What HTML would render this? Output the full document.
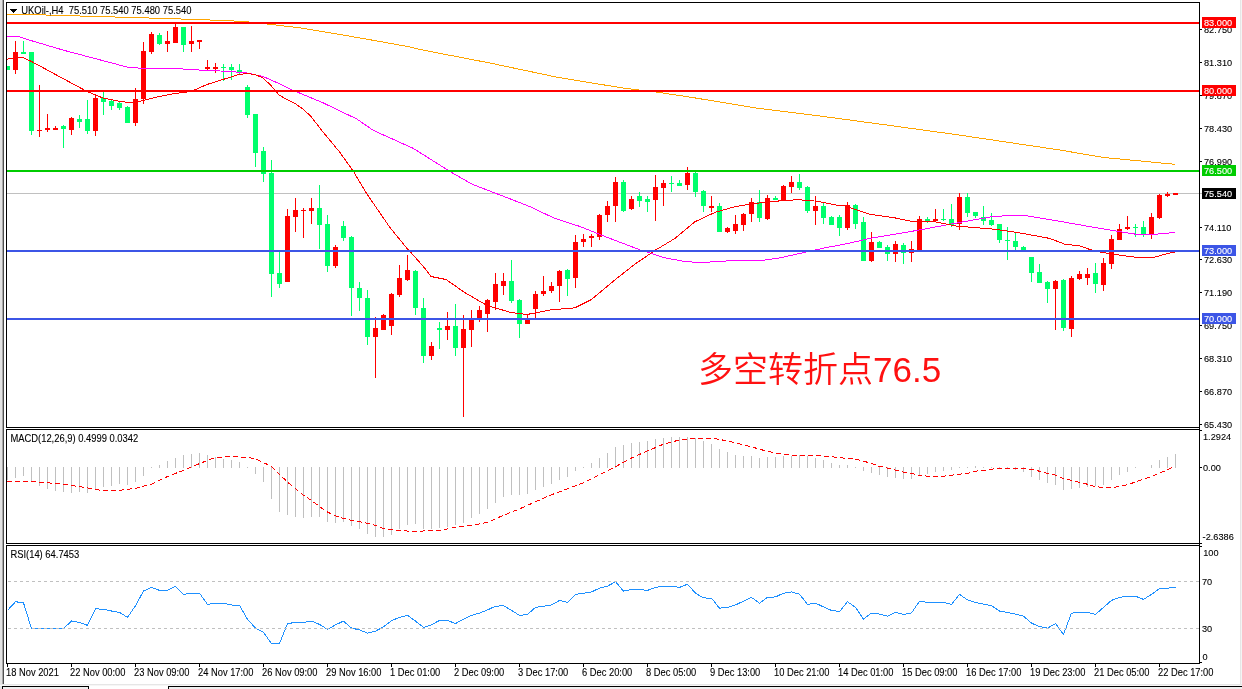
<!DOCTYPE html>
<html lang="zh"><head><meta charset="utf-8"><title>UKOil H4</title>
<style>html,body{margin:0;padding:0;background:#fff;}body{width:1242px;height:689px;overflow:hidden;position:relative;font-family:"Liberation Sans", "Noto Sans CJK SC", sans-serif;}</style>
</head><body>
<svg width="1242" height="689" viewBox="0 0 1242 689" style="display:block;position:absolute;left:0;top:0">
<rect x="0" y="0" width="1242" height="689" fill="#ffffff"/>
<g shape-rendering="crispEdges">
<rect x="0" y="0" width="2" height="685" fill="#e3e3e3"/>
<rect x="2" y="0" width="1" height="685" fill="#a9a9a9"/>
<rect x="3" y="0" width="1" height="685" fill="#4f4f4f"/>
<rect x="1240" y="0" width="1" height="685" fill="#e6e6e6"/>
<rect x="1241" y="0" width="1" height="685" fill="#f4f4f4"/>
<rect x="0" y="684" width="1242" height="1" fill="#e6e6e6"/>
<rect x="0" y="685" width="1242" height="1" fill="#f6f6f6"/>
<rect x="0" y="686" width="1242" height="1" fill="#000"/>
<rect x="0" y="687" width="1242" height="2" fill="#efefef"/>
<rect x="0" y="686" width="2" height="3" fill="#e8e8e8"/>
<rect x="89" y="686" width="79" height="3" fill="#fff"/>
<rect x="88" y="686" width="1" height="3" fill="#000"/>
<rect x="168" y="686" width="1" height="3" fill="#000"/>
<rect x="2" y="686" width="1" height="3" fill="#000"/>
<rect x="7" y="193" width="1195" height="1" fill="#c0c0c0"/>
</g>
<g shape-rendering="crispEdges">
<rect x="7" y="66" width="1" height="4" fill="#00ff6c"/>
<rect x="7" y="66" width="3" height="4" fill="#00ff6c"/>
<rect x="15" y="41" width="1" height="33" fill="#ff0000"/>
<rect x="13" y="52" width="5" height="18" fill="#ff0000"/>
<rect x="23" y="41" width="1" height="13" fill="#00ff6c"/>
<rect x="21" y="52" width="5" height="2" fill="#00ff6c"/>
<rect x="31" y="52" width="1" height="83" fill="#00ff6c"/>
<rect x="29" y="52" width="5" height="79" fill="#00ff6c"/>
<rect x="39" y="85" width="1" height="52" fill="#ff0000"/>
<rect x="37" y="130" width="5" height="1" fill="#ff0000"/>
<rect x="47" y="114" width="1" height="18" fill="#ff0000"/>
<rect x="45" y="128" width="5" height="2" fill="#ff0000"/>
<rect x="55" y="126" width="1" height="4" fill="#ff0000"/>
<rect x="53" y="128" width="5" height="2" fill="#ff0000"/>
<rect x="63" y="125" width="1" height="23" fill="#00ff6c"/>
<rect x="61" y="126" width="5" height="3" fill="#00ff6c"/>
<rect x="71" y="117" width="1" height="18" fill="#ff0000"/>
<rect x="69" y="118" width="5" height="12" fill="#ff0000"/>
<rect x="79" y="115" width="1" height="13" fill="#00ff6c"/>
<rect x="77" y="119" width="5" height="3" fill="#00ff6c"/>
<rect x="87" y="100" width="1" height="34" fill="#00ff6c"/>
<rect x="85" y="119" width="5" height="12" fill="#00ff6c"/>
<rect x="95" y="94" width="1" height="42" fill="#ff0000"/>
<rect x="93" y="98" width="5" height="33" fill="#ff0000"/>
<rect x="103" y="92" width="1" height="23" fill="#00ff6c"/>
<rect x="101" y="98" width="5" height="4" fill="#00ff6c"/>
<rect x="111" y="100" width="1" height="10" fill="#00ff6c"/>
<rect x="109" y="101" width="5" height="5" fill="#00ff6c"/>
<rect x="119" y="101" width="1" height="9" fill="#00ff6c"/>
<rect x="117" y="103" width="5" height="5" fill="#00ff6c"/>
<rect x="127" y="106" width="1" height="17" fill="#00ff6c"/>
<rect x="125" y="107" width="5" height="16" fill="#00ff6c"/>
<rect x="135" y="88" width="1" height="38" fill="#ff0000"/>
<rect x="133" y="99" width="5" height="24" fill="#ff0000"/>
<rect x="143" y="42" width="1" height="62" fill="#ff0000"/>
<rect x="141" y="51" width="5" height="48" fill="#ff0000"/>
<rect x="151" y="32" width="1" height="22" fill="#ff0000"/>
<rect x="149" y="34" width="5" height="18" fill="#ff0000"/>
<rect x="159" y="33" width="1" height="12" fill="#00ff6c"/>
<rect x="157" y="35" width="5" height="9" fill="#00ff6c"/>
<rect x="167" y="31" width="1" height="21" fill="#ff0000"/>
<rect x="165" y="41" width="5" height="3" fill="#ff0000"/>
<rect x="175" y="23" width="1" height="20" fill="#ff0000"/>
<rect x="173" y="27" width="5" height="16" fill="#ff0000"/>
<rect x="183" y="27" width="1" height="25" fill="#00ff6c"/>
<rect x="181" y="27" width="5" height="18" fill="#00ff6c"/>
<rect x="191" y="26" width="1" height="26" fill="#ff0000"/>
<rect x="189" y="41" width="5" height="3" fill="#ff0000"/>
<rect x="199" y="40" width="1" height="9" fill="#ff0000"/>
<rect x="197" y="40" width="5" height="2" fill="#ff0000"/>
<rect x="207" y="60" width="1" height="11" fill="#ff0000"/>
<rect x="205" y="67" width="5" height="2" fill="#ff0000"/>
<rect x="215" y="63" width="1" height="10" fill="#ff0000"/>
<rect x="213" y="67" width="5" height="2" fill="#ff0000"/>
<rect x="223" y="64" width="1" height="17" fill="#00ff6c"/>
<rect x="221" y="67" width="5" height="1" fill="#00ff6c"/>
<rect x="231" y="64" width="1" height="16" fill="#00ff6c"/>
<rect x="229" y="67" width="5" height="3" fill="#00ff6c"/>
<rect x="239" y="64" width="1" height="11" fill="#00ff6c"/>
<rect x="237" y="70" width="5" height="2" fill="#00ff6c"/>
<rect x="247" y="85" width="1" height="33" fill="#00ff6c"/>
<rect x="245" y="87" width="5" height="28" fill="#00ff6c"/>
<rect x="255" y="114" width="1" height="53" fill="#00ff6c"/>
<rect x="253" y="114" width="5" height="39" fill="#00ff6c"/>
<rect x="263" y="147" width="1" height="35" fill="#00ff6c"/>
<rect x="261" y="151" width="5" height="23" fill="#00ff6c"/>
<rect x="271" y="160" width="1" height="137" fill="#00ff6c"/>
<rect x="269" y="173" width="5" height="101" fill="#00ff6c"/>
<rect x="279" y="252" width="1" height="36" fill="#00ff6c"/>
<rect x="277" y="273" width="5" height="11" fill="#00ff6c"/>
<rect x="287" y="209" width="1" height="73" fill="#ff0000"/>
<rect x="285" y="216" width="5" height="66" fill="#ff0000"/>
<rect x="295" y="198" width="1" height="34" fill="#ff0000"/>
<rect x="293" y="210" width="5" height="7" fill="#ff0000"/>
<rect x="303" y="208" width="1" height="30" fill="#ff0000"/>
<rect x="301" y="210" width="5" height="1" fill="#ff0000"/>
<rect x="311" y="198" width="1" height="26" fill="#ff0000"/>
<rect x="309" y="208" width="5" height="3" fill="#ff0000"/>
<rect x="319" y="185" width="1" height="64" fill="#00ff6c"/>
<rect x="317" y="208" width="5" height="17" fill="#00ff6c"/>
<rect x="327" y="215" width="1" height="57" fill="#00ff6c"/>
<rect x="325" y="224" width="5" height="42" fill="#00ff6c"/>
<rect x="335" y="245" width="1" height="23" fill="#ff0000"/>
<rect x="333" y="247" width="5" height="19" fill="#ff0000"/>
<rect x="343" y="221" width="1" height="20" fill="#00ff6c"/>
<rect x="341" y="226" width="5" height="12" fill="#00ff6c"/>
<rect x="351" y="236" width="1" height="80" fill="#00ff6c"/>
<rect x="349" y="237" width="5" height="51" fill="#00ff6c"/>
<rect x="359" y="282" width="1" height="29" fill="#00ff6c"/>
<rect x="357" y="288" width="5" height="10" fill="#00ff6c"/>
<rect x="367" y="290" width="1" height="55" fill="#00ff6c"/>
<rect x="365" y="298" width="5" height="39" fill="#00ff6c"/>
<rect x="375" y="317" width="1" height="61" fill="#ff0000"/>
<rect x="373" y="328" width="5" height="9" fill="#ff0000"/>
<rect x="383" y="314" width="1" height="16" fill="#ff0000"/>
<rect x="381" y="315" width="5" height="15" fill="#ff0000"/>
<rect x="391" y="293" width="1" height="42" fill="#ff0000"/>
<rect x="389" y="294" width="5" height="32" fill="#ff0000"/>
<rect x="399" y="265" width="1" height="32" fill="#ff0000"/>
<rect x="397" y="278" width="5" height="17" fill="#ff0000"/>
<rect x="407" y="255" width="1" height="26" fill="#ff0000"/>
<rect x="405" y="270" width="5" height="10" fill="#ff0000"/>
<rect x="415" y="270" width="1" height="45" fill="#00ff6c"/>
<rect x="413" y="271" width="5" height="37" fill="#00ff6c"/>
<rect x="423" y="298" width="1" height="65" fill="#00ff6c"/>
<rect x="421" y="308" width="5" height="48" fill="#00ff6c"/>
<rect x="431" y="342" width="1" height="18" fill="#ff0000"/>
<rect x="429" y="346" width="5" height="10" fill="#ff0000"/>
<rect x="439" y="322" width="1" height="27" fill="#00ff6c"/>
<rect x="437" y="328" width="5" height="2" fill="#00ff6c"/>
<rect x="447" y="312" width="1" height="28" fill="#ff0000"/>
<rect x="445" y="326" width="5" height="4" fill="#ff0000"/>
<rect x="455" y="304" width="1" height="52" fill="#00ff6c"/>
<rect x="453" y="326" width="5" height="22" fill="#00ff6c"/>
<rect x="463" y="315" width="1" height="102" fill="#ff0000"/>
<rect x="461" y="329" width="5" height="19" fill="#ff0000"/>
<rect x="471" y="310" width="1" height="37" fill="#ff0000"/>
<rect x="469" y="319" width="5" height="11" fill="#ff0000"/>
<rect x="479" y="306" width="1" height="16" fill="#ff0000"/>
<rect x="477" y="310" width="5" height="9" fill="#ff0000"/>
<rect x="487" y="299" width="1" height="33" fill="#ff0000"/>
<rect x="485" y="300" width="5" height="14" fill="#ff0000"/>
<rect x="495" y="273" width="1" height="37" fill="#ff0000"/>
<rect x="493" y="284" width="5" height="18" fill="#ff0000"/>
<rect x="503" y="273" width="1" height="22" fill="#ff0000"/>
<rect x="501" y="281" width="5" height="5" fill="#ff0000"/>
<rect x="511" y="260" width="1" height="43" fill="#00ff6c"/>
<rect x="509" y="281" width="5" height="20" fill="#00ff6c"/>
<rect x="519" y="299" width="1" height="39" fill="#00ff6c"/>
<rect x="517" y="300" width="5" height="24" fill="#00ff6c"/>
<rect x="527" y="314" width="1" height="10" fill="#ff0000"/>
<rect x="525" y="320" width="5" height="4" fill="#ff0000"/>
<rect x="535" y="291" width="1" height="27" fill="#ff0000"/>
<rect x="533" y="294" width="5" height="15" fill="#ff0000"/>
<rect x="543" y="276" width="1" height="20" fill="#ff0000"/>
<rect x="541" y="291" width="5" height="3" fill="#ff0000"/>
<rect x="551" y="282" width="1" height="11" fill="#ff0000"/>
<rect x="549" y="286" width="5" height="5" fill="#ff0000"/>
<rect x="559" y="270" width="1" height="32" fill="#ff0000"/>
<rect x="557" y="271" width="5" height="15" fill="#ff0000"/>
<rect x="567" y="269" width="1" height="27" fill="#00ff6c"/>
<rect x="565" y="270" width="5" height="9" fill="#00ff6c"/>
<rect x="575" y="235" width="1" height="53" fill="#ff0000"/>
<rect x="573" y="242" width="5" height="36" fill="#ff0000"/>
<rect x="583" y="234" width="1" height="13" fill="#ff0000"/>
<rect x="581" y="239" width="5" height="3" fill="#ff0000"/>
<rect x="591" y="234" width="1" height="13" fill="#ff0000"/>
<rect x="589" y="236" width="5" height="2" fill="#ff0000"/>
<rect x="599" y="214" width="1" height="26" fill="#ff0000"/>
<rect x="597" y="215" width="5" height="22" fill="#ff0000"/>
<rect x="607" y="201" width="1" height="21" fill="#ff0000"/>
<rect x="605" y="206" width="5" height="9" fill="#ff0000"/>
<rect x="615" y="177" width="1" height="45" fill="#ff0000"/>
<rect x="613" y="182" width="5" height="24" fill="#ff0000"/>
<rect x="623" y="180" width="1" height="32" fill="#00ff6c"/>
<rect x="621" y="182" width="5" height="29" fill="#00ff6c"/>
<rect x="631" y="196" width="1" height="14" fill="#ff0000"/>
<rect x="629" y="199" width="5" height="10" fill="#ff0000"/>
<rect x="639" y="192" width="1" height="15" fill="#00ff6c"/>
<rect x="637" y="196" width="5" height="5" fill="#00ff6c"/>
<rect x="647" y="196" width="1" height="16" fill="#00ff6c"/>
<rect x="645" y="199" width="5" height="3" fill="#00ff6c"/>
<rect x="655" y="175" width="1" height="46" fill="#ff0000"/>
<rect x="653" y="187" width="5" height="13" fill="#ff0000"/>
<rect x="663" y="180" width="1" height="26" fill="#ff0000"/>
<rect x="661" y="183" width="5" height="5" fill="#ff0000"/>
<rect x="671" y="176" width="1" height="16" fill="#00ff6c"/>
<rect x="669" y="183" width="5" height="1" fill="#00ff6c"/>
<rect x="679" y="180" width="1" height="6" fill="#00ff6c"/>
<rect x="677" y="183" width="5" height="3" fill="#00ff6c"/>
<rect x="687" y="167" width="1" height="23" fill="#ff0000"/>
<rect x="685" y="173" width="5" height="12" fill="#ff0000"/>
<rect x="695" y="171" width="1" height="26" fill="#00ff6c"/>
<rect x="693" y="173" width="5" height="19" fill="#00ff6c"/>
<rect x="703" y="190" width="1" height="22" fill="#00ff6c"/>
<rect x="701" y="191" width="5" height="15" fill="#00ff6c"/>
<rect x="711" y="196" width="1" height="16" fill="#ff0000"/>
<rect x="709" y="206" width="5" height="2" fill="#ff0000"/>
<rect x="719" y="203" width="1" height="29" fill="#00ff6c"/>
<rect x="717" y="206" width="5" height="26" fill="#00ff6c"/>
<rect x="727" y="227" width="1" height="6" fill="#ff0000"/>
<rect x="725" y="228" width="5" height="4" fill="#ff0000"/>
<rect x="735" y="215" width="1" height="19" fill="#ff0000"/>
<rect x="733" y="224" width="5" height="7" fill="#ff0000"/>
<rect x="743" y="213" width="1" height="18" fill="#ff0000"/>
<rect x="741" y="214" width="5" height="11" fill="#ff0000"/>
<rect x="751" y="198" width="1" height="24" fill="#ff0000"/>
<rect x="749" y="202" width="5" height="12" fill="#ff0000"/>
<rect x="759" y="190" width="1" height="32" fill="#00ff6c"/>
<rect x="757" y="202" width="5" height="16" fill="#00ff6c"/>
<rect x="767" y="195" width="1" height="25" fill="#ff0000"/>
<rect x="765" y="198" width="5" height="21" fill="#ff0000"/>
<rect x="775" y="196" width="1" height="4" fill="#00ff6c"/>
<rect x="773" y="198" width="5" height="2" fill="#00ff6c"/>
<rect x="783" y="185" width="1" height="16" fill="#ff0000"/>
<rect x="781" y="186" width="5" height="15" fill="#ff0000"/>
<rect x="791" y="176" width="1" height="17" fill="#ff0000"/>
<rect x="789" y="182" width="5" height="5" fill="#ff0000"/>
<rect x="799" y="174" width="1" height="16" fill="#00ff6c"/>
<rect x="797" y="182" width="5" height="6" fill="#00ff6c"/>
<rect x="807" y="186" width="1" height="27" fill="#00ff6c"/>
<rect x="805" y="187" width="5" height="24" fill="#00ff6c"/>
<rect x="815" y="196" width="1" height="29" fill="#ff0000"/>
<rect x="813" y="206" width="5" height="5" fill="#ff0000"/>
<rect x="823" y="203" width="1" height="21" fill="#00ff6c"/>
<rect x="821" y="206" width="5" height="12" fill="#00ff6c"/>
<rect x="831" y="216" width="1" height="9" fill="#00ff6c"/>
<rect x="829" y="217" width="5" height="8" fill="#00ff6c"/>
<rect x="839" y="215" width="1" height="21" fill="#00ff6c"/>
<rect x="837" y="217" width="5" height="11" fill="#00ff6c"/>
<rect x="847" y="202" width="1" height="28" fill="#ff0000"/>
<rect x="845" y="205" width="5" height="23" fill="#ff0000"/>
<rect x="855" y="204" width="1" height="25" fill="#00ff6c"/>
<rect x="853" y="205" width="5" height="19" fill="#00ff6c"/>
<rect x="863" y="217" width="1" height="44" fill="#00ff6c"/>
<rect x="861" y="222" width="5" height="39" fill="#00ff6c"/>
<rect x="871" y="232" width="1" height="30" fill="#ff0000"/>
<rect x="869" y="242" width="5" height="19" fill="#ff0000"/>
<rect x="879" y="241" width="1" height="7" fill="#00ff6c"/>
<rect x="877" y="242" width="5" height="6" fill="#00ff6c"/>
<rect x="887" y="245" width="1" height="16" fill="#00ff6c"/>
<rect x="885" y="247" width="5" height="7" fill="#00ff6c"/>
<rect x="895" y="241" width="1" height="21" fill="#ff0000"/>
<rect x="893" y="244" width="5" height="10" fill="#ff0000"/>
<rect x="903" y="243" width="1" height="21" fill="#00ff6c"/>
<rect x="901" y="245" width="5" height="8" fill="#00ff6c"/>
<rect x="911" y="241" width="1" height="21" fill="#ff0000"/>
<rect x="909" y="249" width="5" height="4" fill="#ff0000"/>
<rect x="919" y="216" width="1" height="35" fill="#ff0000"/>
<rect x="917" y="219" width="5" height="32" fill="#ff0000"/>
<rect x="927" y="217" width="1" height="6" fill="#00ff6c"/>
<rect x="925" y="219" width="5" height="3" fill="#00ff6c"/>
<rect x="935" y="209" width="1" height="13" fill="#ff0000"/>
<rect x="933" y="219" width="5" height="2" fill="#ff0000"/>
<rect x="943" y="209" width="1" height="12" fill="#00ff6c"/>
<rect x="941" y="219" width="5" height="1" fill="#00ff6c"/>
<rect x="951" y="204" width="1" height="23" fill="#00ff6c"/>
<rect x="949" y="219" width="5" height="6" fill="#00ff6c"/>
<rect x="959" y="193" width="1" height="37" fill="#ff0000"/>
<rect x="957" y="197" width="5" height="27" fill="#ff0000"/>
<rect x="967" y="193" width="1" height="24" fill="#00ff6c"/>
<rect x="965" y="197" width="5" height="16" fill="#00ff6c"/>
<rect x="975" y="212" width="1" height="6" fill="#00ff6c"/>
<rect x="973" y="212" width="5" height="4" fill="#00ff6c"/>
<rect x="983" y="206" width="1" height="19" fill="#00ff6c"/>
<rect x="981" y="217" width="5" height="4" fill="#00ff6c"/>
<rect x="991" y="213" width="1" height="13" fill="#00ff6c"/>
<rect x="989" y="220" width="5" height="5" fill="#00ff6c"/>
<rect x="999" y="224" width="1" height="19" fill="#00ff6c"/>
<rect x="997" y="224" width="5" height="16" fill="#00ff6c"/>
<rect x="1007" y="227" width="1" height="33" fill="#00ff6c"/>
<rect x="1005" y="240" width="5" height="1" fill="#00ff6c"/>
<rect x="1015" y="232" width="1" height="20" fill="#00ff6c"/>
<rect x="1013" y="241" width="5" height="6" fill="#00ff6c"/>
<rect x="1023" y="246" width="1" height="4" fill="#00ff6c"/>
<rect x="1021" y="247" width="5" height="3" fill="#00ff6c"/>
<rect x="1031" y="257" width="1" height="25" fill="#00ff6c"/>
<rect x="1029" y="257" width="5" height="16" fill="#00ff6c"/>
<rect x="1039" y="264" width="1" height="19" fill="#00ff6c"/>
<rect x="1037" y="272" width="5" height="11" fill="#00ff6c"/>
<rect x="1047" y="281" width="1" height="22" fill="#00ff6c"/>
<rect x="1045" y="282" width="5" height="7" fill="#00ff6c"/>
<rect x="1055" y="280" width="1" height="50" fill="#ff0000"/>
<rect x="1053" y="281" width="5" height="8" fill="#ff0000"/>
<rect x="1063" y="279" width="1" height="52" fill="#00ff6c"/>
<rect x="1061" y="280" width="5" height="48" fill="#00ff6c"/>
<rect x="1071" y="276" width="1" height="61" fill="#ff0000"/>
<rect x="1069" y="278" width="5" height="51" fill="#ff0000"/>
<rect x="1079" y="271" width="1" height="9" fill="#ff0000"/>
<rect x="1077" y="274" width="5" height="5" fill="#ff0000"/>
<rect x="1087" y="268" width="1" height="17" fill="#ff0000"/>
<rect x="1085" y="274" width="5" height="4" fill="#ff0000"/>
<rect x="1095" y="263" width="1" height="30" fill="#00ff6c"/>
<rect x="1093" y="273" width="5" height="11" fill="#00ff6c"/>
<rect x="1103" y="258" width="1" height="33" fill="#ff0000"/>
<rect x="1101" y="263" width="5" height="22" fill="#ff0000"/>
<rect x="1111" y="235" width="1" height="34" fill="#ff0000"/>
<rect x="1109" y="239" width="5" height="25" fill="#ff0000"/>
<rect x="1119" y="224" width="1" height="16" fill="#ff0000"/>
<rect x="1117" y="229" width="5" height="11" fill="#ff0000"/>
<rect x="1127" y="216" width="1" height="14" fill="#ff0000"/>
<rect x="1125" y="227" width="5" height="2" fill="#ff0000"/>
<rect x="1135" y="224" width="1" height="13" fill="#00ff6c"/>
<rect x="1133" y="227" width="5" height="1" fill="#00ff6c"/>
<rect x="1143" y="221" width="1" height="16" fill="#00ff6c"/>
<rect x="1141" y="227" width="5" height="7" fill="#00ff6c"/>
<rect x="1151" y="213" width="1" height="26" fill="#ff0000"/>
<rect x="1149" y="217" width="5" height="17" fill="#ff0000"/>
<rect x="1159" y="194" width="1" height="25" fill="#ff0000"/>
<rect x="1157" y="195" width="5" height="23" fill="#ff0000"/>
<rect x="1167" y="192" width="1" height="5" fill="#ff0000"/>
<rect x="1165" y="194" width="5" height="2" fill="#ff0000"/>
<rect x="1175" y="193" width="1" height="2" fill="#ff0000"/>
<rect x="1173" y="193" width="5" height="2" fill="#ff0000"/>
<polyline points="6.0,14.2 28.0,14.5 63.0,15.5 96.0,16.5 133.0,17.5 165.0,18.5 196.0,19.5 224.0,20.5 244.0,21.5 252.0,22.3 268.4,24.2 300.2,27.8 333.6,33.4 367.0,39.2 407.0,46.4 423.6,50.2 490.3,63.1 557.1,77.2 623.9,88.2 657.3,92.2 690.0,97.1 756.8,108.1 823.6,116.5 890.3,125.5 957.0,134.7 1024.0,144.7 1057.9,149.7 1104.0,157.5 1175.0,164.3" fill="none" stroke="#ffa500" stroke-width="1" />
<polyline points="6.0,36.5 19.0,36.7 31.5,40.7 63.5,50.2 95.5,58.7 127.0,67.0 143.0,68.5 175.0,68.5 199.0,70.0 231.0,71.5 247.0,73.0 263.0,76.5 279.0,83.5 290.0,89.0 323.4,103.0 356.8,119.0 373.5,130.5 413.5,148.5 450.0,171.5 472.0,184.2 511.0,199.2 530.0,206.7 555.0,218.5 580.0,226.5 605.0,236.5 640.0,249.9 665.0,257.9 685.0,261.5 702.0,262.8 720.0,261.1 762.0,260.4 779.6,257.9 804.6,252.4 824.5,247.9 845.0,244.1 870.0,238.4 920.0,229.9 960.0,222.4 992.0,216.7 1007.0,215.7 1027.0,215.9 1057.0,220.8 1094.6,227.5 1114.6,230.8 1137.6,234.5 1153.0,234.5 1175.0,232.5" fill="none" stroke="#ff00ff" stroke-width="1" />
<polyline points="6.0,59.2 23.0,57.5 31.5,61.5 87.0,91.5 103.0,98.0 119.0,101.2 132.0,103.0 143.0,100.5 159.0,96.5 175.0,93.5 191.0,91.5 207.0,84.5 223.0,79.5 239.0,74.5 247.0,73.5 255.0,74.5 263.0,78.0 271.0,85.5 279.0,95.0 287.0,99.5 295.0,103.5 303.0,109.0 311.0,116.5 323.4,132.5 340.0,152.5 353.5,171.5 367.0,194.2 382.0,215.9 390.0,227.6 407.0,248.4 410.0,251.5 423.6,266.8 431.0,276.5 446.0,279.5 464.7,292.5 487.0,305.5 511.0,312.5 527.0,314.5 550.0,310.0 575.0,307.8 591.0,299.8 615.0,279.8 635.0,264.1 655.0,250.4 675.0,238.4 695.0,221.7 715.0,212.4 735.0,206.7 755.0,203.4 779.6,200.9 798.0,199.7 817.0,201.2 840.0,205.9 845.0,205.9 870.0,214.2 895.0,217.9 911.8,221.4 935.0,221.8 955.0,225.9 994.7,229.2 1019.7,232.9 1049.7,238.4 1064.6,244.1 1079.6,245.9 1094.6,251.1 1121.0,255.4 1140.8,257.8 1153.8,257.5 1163.6,254.5 1175.0,251.9" fill="none" stroke="#ff0000" stroke-width="1" />
<rect x="6" y="22" width="1193" height="2" fill="#ff0000"/>
<rect x="6" y="90" width="1193" height="2" fill="#ff0000"/>
<rect x="6" y="170" width="1193" height="2" fill="#00cc00"/>
<rect x="6" y="250" width="1193" height="2" fill="#3c55e6"/>
<rect x="6" y="318" width="1193" height="2" fill="#3c55e6"/>
<rect x="7" y="467" width="1" height="13" fill="#c0c0c0"/>
<rect x="15" y="467" width="1" height="11" fill="#c0c0c0"/>
<rect x="23" y="467" width="1" height="9" fill="#c0c0c0"/>
<rect x="31" y="467" width="1" height="15" fill="#c0c0c0"/>
<rect x="39" y="467" width="1" height="19" fill="#c0c0c0"/>
<rect x="47" y="467" width="1" height="22" fill="#c0c0c0"/>
<rect x="55" y="467" width="1" height="24" fill="#c0c0c0"/>
<rect x="63" y="467" width="1" height="25" fill="#c0c0c0"/>
<rect x="71" y="467" width="1" height="26" fill="#c0c0c0"/>
<rect x="79" y="467" width="1" height="25" fill="#c0c0c0"/>
<rect x="87" y="467" width="1" height="26" fill="#c0c0c0"/>
<rect x="95" y="467" width="1" height="23" fill="#c0c0c0"/>
<rect x="103" y="467" width="1" height="20" fill="#c0c0c0"/>
<rect x="111" y="467" width="1" height="19" fill="#c0c0c0"/>
<rect x="119" y="467" width="1" height="17" fill="#c0c0c0"/>
<rect x="127" y="467" width="1" height="18" fill="#c0c0c0"/>
<rect x="135" y="467" width="1" height="15" fill="#c0c0c0"/>
<rect x="143" y="467" width="1" height="9" fill="#c0c0c0"/>
<rect x="151" y="467" width="1" height="1" fill="#c0c0c0"/>
<rect x="159" y="465" width="1" height="3" fill="#c0c0c0"/>
<rect x="167" y="461" width="1" height="7" fill="#c0c0c0"/>
<rect x="175" y="458" width="1" height="10" fill="#c0c0c0"/>
<rect x="183" y="455" width="1" height="13" fill="#c0c0c0"/>
<rect x="191" y="454" width="1" height="14" fill="#c0c0c0"/>
<rect x="199" y="453" width="1" height="15" fill="#c0c0c0"/>
<rect x="207" y="455" width="1" height="13" fill="#c0c0c0"/>
<rect x="215" y="457" width="1" height="11" fill="#c0c0c0"/>
<rect x="223" y="459" width="1" height="9" fill="#c0c0c0"/>
<rect x="231" y="460" width="1" height="8" fill="#c0c0c0"/>
<rect x="239" y="462" width="1" height="6" fill="#c0c0c0"/>
<rect x="247" y="467" width="1" height="1" fill="#c0c0c0"/>
<rect x="255" y="467" width="1" height="7" fill="#c0c0c0"/>
<rect x="263" y="467" width="1" height="15" fill="#c0c0c0"/>
<rect x="271" y="467" width="1" height="32" fill="#c0c0c0"/>
<rect x="279" y="467" width="1" height="45" fill="#c0c0c0"/>
<rect x="287" y="467" width="1" height="48" fill="#c0c0c0"/>
<rect x="295" y="467" width="1" height="50" fill="#c0c0c0"/>
<rect x="303" y="467" width="1" height="51" fill="#c0c0c0"/>
<rect x="311" y="467" width="1" height="50" fill="#c0c0c0"/>
<rect x="319" y="467" width="1" height="50" fill="#c0c0c0"/>
<rect x="327" y="467" width="1" height="55" fill="#c0c0c0"/>
<rect x="335" y="467" width="1" height="56" fill="#c0c0c0"/>
<rect x="343" y="467" width="1" height="55" fill="#c0c0c0"/>
<rect x="351" y="467" width="1" height="59" fill="#c0c0c0"/>
<rect x="359" y="467" width="1" height="62" fill="#c0c0c0"/>
<rect x="367" y="467" width="1" height="67" fill="#c0c0c0"/>
<rect x="375" y="467" width="1" height="70" fill="#c0c0c0"/>
<rect x="383" y="467" width="1" height="70" fill="#c0c0c0"/>
<rect x="391" y="467" width="1" height="68" fill="#c0c0c0"/>
<rect x="399" y="467" width="1" height="62" fill="#c0c0c0"/>
<rect x="407" y="467" width="1" height="58" fill="#c0c0c0"/>
<rect x="415" y="467" width="1" height="57" fill="#c0c0c0"/>
<rect x="423" y="467" width="1" height="62" fill="#c0c0c0"/>
<rect x="431" y="467" width="1" height="62" fill="#c0c0c0"/>
<rect x="439" y="467" width="1" height="61" fill="#c0c0c0"/>
<rect x="447" y="467" width="1" height="60" fill="#c0c0c0"/>
<rect x="455" y="467" width="1" height="58" fill="#c0c0c0"/>
<rect x="463" y="467" width="1" height="56" fill="#c0c0c0"/>
<rect x="471" y="467" width="1" height="51" fill="#c0c0c0"/>
<rect x="479" y="467" width="1" height="47" fill="#c0c0c0"/>
<rect x="487" y="467" width="1" height="42" fill="#c0c0c0"/>
<rect x="495" y="467" width="1" height="36" fill="#c0c0c0"/>
<rect x="503" y="467" width="1" height="30" fill="#c0c0c0"/>
<rect x="511" y="467" width="1" height="28" fill="#c0c0c0"/>
<rect x="519" y="467" width="1" height="28" fill="#c0c0c0"/>
<rect x="527" y="467" width="1" height="27" fill="#c0c0c0"/>
<rect x="535" y="467" width="1" height="23" fill="#c0c0c0"/>
<rect x="543" y="467" width="1" height="20" fill="#c0c0c0"/>
<rect x="551" y="467" width="1" height="17" fill="#c0c0c0"/>
<rect x="559" y="467" width="1" height="13" fill="#c0c0c0"/>
<rect x="567" y="467" width="1" height="10" fill="#c0c0c0"/>
<rect x="575" y="467" width="1" height="4" fill="#c0c0c0"/>
<rect x="583" y="467" width="1" height="1" fill="#c0c0c0"/>
<rect x="591" y="463" width="1" height="5" fill="#c0c0c0"/>
<rect x="599" y="458" width="1" height="10" fill="#c0c0c0"/>
<rect x="607" y="453" width="1" height="15" fill="#c0c0c0"/>
<rect x="615" y="447" width="1" height="21" fill="#c0c0c0"/>
<rect x="623" y="445" width="1" height="23" fill="#c0c0c0"/>
<rect x="631" y="443" width="1" height="25" fill="#c0c0c0"/>
<rect x="639" y="442" width="1" height="26" fill="#c0c0c0"/>
<rect x="647" y="441" width="1" height="27" fill="#c0c0c0"/>
<rect x="655" y="439" width="1" height="29" fill="#c0c0c0"/>
<rect x="663" y="438" width="1" height="30" fill="#c0c0c0"/>
<rect x="671" y="437" width="1" height="31" fill="#c0c0c0"/>
<rect x="679" y="437" width="1" height="31" fill="#c0c0c0"/>
<rect x="687" y="437" width="1" height="31" fill="#c0c0c0"/>
<rect x="695" y="438" width="1" height="30" fill="#c0c0c0"/>
<rect x="703" y="441" width="1" height="27" fill="#c0c0c0"/>
<rect x="711" y="444" width="1" height="24" fill="#c0c0c0"/>
<rect x="719" y="449" width="1" height="19" fill="#c0c0c0"/>
<rect x="727" y="452" width="1" height="16" fill="#c0c0c0"/>
<rect x="735" y="455" width="1" height="13" fill="#c0c0c0"/>
<rect x="743" y="456" width="1" height="12" fill="#c0c0c0"/>
<rect x="751" y="456" width="1" height="12" fill="#c0c0c0"/>
<rect x="759" y="458" width="1" height="10" fill="#c0c0c0"/>
<rect x="767" y="457" width="1" height="11" fill="#c0c0c0"/>
<rect x="775" y="457" width="1" height="11" fill="#c0c0c0"/>
<rect x="783" y="456" width="1" height="12" fill="#c0c0c0"/>
<rect x="791" y="456" width="1" height="12" fill="#c0c0c0"/>
<rect x="799" y="455" width="1" height="13" fill="#c0c0c0"/>
<rect x="807" y="456" width="1" height="12" fill="#c0c0c0"/>
<rect x="815" y="458" width="1" height="10" fill="#c0c0c0"/>
<rect x="823" y="460" width="1" height="8" fill="#c0c0c0"/>
<rect x="831" y="463" width="1" height="5" fill="#c0c0c0"/>
<rect x="839" y="465" width="1" height="3" fill="#c0c0c0"/>
<rect x="847" y="465" width="1" height="3" fill="#c0c0c0"/>
<rect x="855" y="467" width="1" height="1" fill="#c0c0c0"/>
<rect x="863" y="467" width="1" height="4" fill="#c0c0c0"/>
<rect x="871" y="467" width="1" height="6" fill="#c0c0c0"/>
<rect x="879" y="467" width="1" height="8" fill="#c0c0c0"/>
<rect x="887" y="467" width="1" height="10" fill="#c0c0c0"/>
<rect x="895" y="467" width="1" height="11" fill="#c0c0c0"/>
<rect x="903" y="467" width="1" height="12" fill="#c0c0c0"/>
<rect x="911" y="467" width="1" height="12" fill="#c0c0c0"/>
<rect x="919" y="467" width="1" height="8" fill="#c0c0c0"/>
<rect x="927" y="467" width="1" height="7" fill="#c0c0c0"/>
<rect x="935" y="467" width="1" height="5" fill="#c0c0c0"/>
<rect x="943" y="467" width="1" height="4" fill="#c0c0c0"/>
<rect x="951" y="467" width="1" height="3" fill="#c0c0c0"/>
<rect x="959" y="467" width="1" height="1" fill="#c0c0c0"/>
<rect x="967" y="467" width="1" height="1" fill="#c0c0c0"/>
<rect x="975" y="466" width="1" height="2" fill="#c0c0c0"/>
<rect x="983" y="467" width="1" height="1" fill="#c0c0c0"/>
<rect x="991" y="467" width="1" height="1" fill="#c0c0c0"/>
<rect x="999" y="467" width="1" height="1" fill="#c0c0c0"/>
<rect x="1007" y="467" width="1" height="2" fill="#c0c0c0"/>
<rect x="1015" y="467" width="1" height="3" fill="#c0c0c0"/>
<rect x="1023" y="467" width="1" height="5" fill="#c0c0c0"/>
<rect x="1031" y="467" width="1" height="10" fill="#c0c0c0"/>
<rect x="1039" y="467" width="1" height="13" fill="#c0c0c0"/>
<rect x="1047" y="467" width="1" height="16" fill="#c0c0c0"/>
<rect x="1055" y="467" width="1" height="18" fill="#c0c0c0"/>
<rect x="1063" y="467" width="1" height="23" fill="#c0c0c0"/>
<rect x="1071" y="467" width="1" height="22" fill="#c0c0c0"/>
<rect x="1079" y="467" width="1" height="21" fill="#c0c0c0"/>
<rect x="1087" y="467" width="1" height="20" fill="#c0c0c0"/>
<rect x="1095" y="467" width="1" height="19" fill="#c0c0c0"/>
<rect x="1103" y="467" width="1" height="18" fill="#c0c0c0"/>
<rect x="1111" y="467" width="1" height="13" fill="#c0c0c0"/>
<rect x="1119" y="467" width="1" height="8" fill="#c0c0c0"/>
<rect x="1127" y="467" width="1" height="5" fill="#c0c0c0"/>
<rect x="1135" y="467" width="1" height="1" fill="#c0c0c0"/>
<rect x="1151" y="465" width="1" height="3" fill="#c0c0c0"/>
<rect x="1159" y="460" width="1" height="8" fill="#c0c0c0"/>
<rect x="1167" y="457" width="1" height="11" fill="#c0c0c0"/>
<rect x="1175" y="454" width="1" height="14" fill="#c0c0c0"/>
<polyline points="7.5,481.2 31.5,481.7 55.4,483.4 71.4,485.4 87.4,487.9 103.3,490.9 119.3,490.4 135.3,488.4 151.3,484.2 167.2,476.7 183.2,470.4 199.2,463.7 215.2,457.5 231.2,456.7 247.1,457.2 255.1,458.7 271.1,466.2 287.1,481.7 303.0,494.9 311.5,500.4 319.5,506.6 327.5,512.0 335.4,515.9 343.4,518.4 351.4,520.4 359.4,521.6 367.4,523.4 375.4,525.4 383.4,528.6 391.4,529.6 399.4,530.3 407.3,531.0 423.3,531.0 439.3,530.3 447.3,529.0 455.3,527.4 471.2,525.4 487.2,522.4 503.2,515.4 519.2,509.0 535.1,502.0 551.1,494.9 567.1,489.0 583.1,483.0 599.1,475.0 615.5,466.7 631.5,458.0 647.4,451.0 663.4,444.2 679.4,440.0 695.4,438.5 711.3,438.5 719.3,439.2 727.3,441.2 735.3,442.5 743.3,445.0 751.3,446.7 759.3,449.2 767.2,451.2 775.2,453.0 783.2,454.2 791.2,455.0 815.2,455.5 831.2,456.7 847.1,458.5 855.1,459.2 863.1,461.0 871.1,463.4 879.1,466.2 887.1,468.0 895.1,470.0 903.5,472.2 911.5,473.4 919.5,475.4 927.5,476.2 943.4,476.2 959.4,474.2 967.4,473.4 975.4,471.2 983.4,470.4 991.4,469.2 999.4,468.4 1023.3,468.4 1031.3,469.2 1039.3,471.2 1047.3,473.4 1055.3,475.0 1063.3,478.4 1071.2,480.4 1079.2,482.2 1087.2,484.2 1095.2,486.7 1103.2,487.4 1111.2,487.4 1119.2,486.7 1127.2,484.7 1135.1,482.2 1143.1,479.2 1151.1,476.7 1159.1,473.4 1167.1,470.0 1175.1,466.2" fill="none" stroke="#ff0000" stroke-width="1" stroke-dasharray="5 3"/>
<polyline points="7.5,610.4 15.5,601.7 23.5,602.9 31.5,628.6 39.5,628.6 47.5,628.6 55.5,628.6 63.5,628.6 71.5,621.0 79.5,622.4 87.5,625.4 95.5,608.7 103.5,609.4 111.5,611.0 119.5,612.4 127.5,617.4 135.5,605.7 143.5,591.0 151.5,587.4 159.5,590.4 167.5,590.4 175.5,586.2 183.5,594.4 191.5,593.2 199.5,593.2 207.5,604.4 215.5,603.2 223.5,603.2 231.5,605.0 239.5,605.4 247.5,619.4 255.5,628.0 263.5,632.4 271.5,643.6 279.5,643.6 287.5,623.6 295.5,622.4 303.5,622.4 311.5,621.1 319.5,624.4 327.5,629.4 335.5,624.9 343.5,621.1 351.5,628.1 359.5,629.9 367.5,633.1 375.5,631.1 383.5,626.9 391.5,620.6 399.5,617.4 407.5,615.4 415.5,621.1 423.5,627.4 431.5,624.9 439.5,620.4 447.5,620.4 455.5,623.6 463.5,619.1 471.5,615.4 479.5,613.1 487.5,609.9 495.5,606.2 503.5,605.7 511.5,610.4 519.5,615.4 527.5,614.4 535.5,607.4 543.5,606.2 551.5,604.9 559.5,600.4 567.5,602.4 575.5,594.4 583.5,593.2 591.5,591.9 599.5,588.2 607.5,586.2 615.5,581.7 623.5,591.2 631.5,589.4 639.5,589.4 647.5,590.4 655.5,587.4 663.5,586.2 671.5,586.2 679.5,587.4 687.5,584.2 695.5,593.2 703.5,597.9 711.5,598.2 719.5,608.2 727.5,607.4 735.5,604.9 743.5,601.2 751.5,597.4 759.5,603.2 767.5,597.4 775.5,596.9 783.5,593.2 791.5,591.9 799.5,594.2 807.5,604.4 815.5,603.2 823.5,606.9 831.5,610.4 839.5,611.6 847.5,601.7 855.5,607.4 863.5,619.1 871.5,613.1 879.5,614.1 887.5,616.1 895.5,612.4 903.5,614.4 911.5,612.9 919.5,601.2 927.5,602.4 935.5,602.4 943.5,602.4 951.5,604.4 959.5,594.4 967.5,599.9 975.5,602.4 983.5,604.2 991.5,605.7 999.5,611.1 1007.5,612.4 1015.5,614.1 1023.5,616.1 1031.5,623.1 1039.5,626.6 1047.5,628.1 1055.5,623.6 1063.5,634.4 1071.5,613.1 1079.5,612.4 1087.5,612.4 1095.5,614.4 1103.5,607.4 1111.5,600.4 1119.5,597.4 1127.5,596.2 1135.5,596.2 1143.5,599.4 1151.5,594.4 1159.5,588.7 1167.5,588.2 1175.5,587.4" fill="none" stroke="#1e90ff" stroke-width="1" />
<rect x="8" y="581" width="3" height="1" fill="#c0c0c0"/>
<rect x="14" y="581" width="3" height="1" fill="#c0c0c0"/>
<rect x="20" y="581" width="3" height="1" fill="#c0c0c0"/>
<rect x="26" y="581" width="3" height="1" fill="#c0c0c0"/>
<rect x="32" y="581" width="3" height="1" fill="#c0c0c0"/>
<rect x="38" y="581" width="3" height="1" fill="#c0c0c0"/>
<rect x="44" y="581" width="3" height="1" fill="#c0c0c0"/>
<rect x="50" y="581" width="3" height="1" fill="#c0c0c0"/>
<rect x="56" y="581" width="3" height="1" fill="#c0c0c0"/>
<rect x="62" y="581" width="3" height="1" fill="#c0c0c0"/>
<rect x="68" y="581" width="3" height="1" fill="#c0c0c0"/>
<rect x="74" y="581" width="3" height="1" fill="#c0c0c0"/>
<rect x="80" y="581" width="3" height="1" fill="#c0c0c0"/>
<rect x="86" y="581" width="3" height="1" fill="#c0c0c0"/>
<rect x="92" y="581" width="3" height="1" fill="#c0c0c0"/>
<rect x="98" y="581" width="3" height="1" fill="#c0c0c0"/>
<rect x="104" y="581" width="3" height="1" fill="#c0c0c0"/>
<rect x="110" y="581" width="3" height="1" fill="#c0c0c0"/>
<rect x="116" y="581" width="3" height="1" fill="#c0c0c0"/>
<rect x="122" y="581" width="3" height="1" fill="#c0c0c0"/>
<rect x="128" y="581" width="3" height="1" fill="#c0c0c0"/>
<rect x="134" y="581" width="3" height="1" fill="#c0c0c0"/>
<rect x="140" y="581" width="3" height="1" fill="#c0c0c0"/>
<rect x="146" y="581" width="3" height="1" fill="#c0c0c0"/>
<rect x="152" y="581" width="3" height="1" fill="#c0c0c0"/>
<rect x="158" y="581" width="3" height="1" fill="#c0c0c0"/>
<rect x="164" y="581" width="3" height="1" fill="#c0c0c0"/>
<rect x="170" y="581" width="3" height="1" fill="#c0c0c0"/>
<rect x="176" y="581" width="3" height="1" fill="#c0c0c0"/>
<rect x="182" y="581" width="3" height="1" fill="#c0c0c0"/>
<rect x="188" y="581" width="3" height="1" fill="#c0c0c0"/>
<rect x="194" y="581" width="3" height="1" fill="#c0c0c0"/>
<rect x="200" y="581" width="3" height="1" fill="#c0c0c0"/>
<rect x="206" y="581" width="3" height="1" fill="#c0c0c0"/>
<rect x="212" y="581" width="3" height="1" fill="#c0c0c0"/>
<rect x="218" y="581" width="3" height="1" fill="#c0c0c0"/>
<rect x="224" y="581" width="3" height="1" fill="#c0c0c0"/>
<rect x="230" y="581" width="3" height="1" fill="#c0c0c0"/>
<rect x="236" y="581" width="3" height="1" fill="#c0c0c0"/>
<rect x="242" y="581" width="3" height="1" fill="#c0c0c0"/>
<rect x="248" y="581" width="3" height="1" fill="#c0c0c0"/>
<rect x="254" y="581" width="3" height="1" fill="#c0c0c0"/>
<rect x="260" y="581" width="3" height="1" fill="#c0c0c0"/>
<rect x="266" y="581" width="3" height="1" fill="#c0c0c0"/>
<rect x="272" y="581" width="3" height="1" fill="#c0c0c0"/>
<rect x="278" y="581" width="3" height="1" fill="#c0c0c0"/>
<rect x="284" y="581" width="3" height="1" fill="#c0c0c0"/>
<rect x="290" y="581" width="3" height="1" fill="#c0c0c0"/>
<rect x="296" y="581" width="3" height="1" fill="#c0c0c0"/>
<rect x="302" y="581" width="3" height="1" fill="#c0c0c0"/>
<rect x="308" y="581" width="3" height="1" fill="#c0c0c0"/>
<rect x="314" y="581" width="3" height="1" fill="#c0c0c0"/>
<rect x="320" y="581" width="3" height="1" fill="#c0c0c0"/>
<rect x="326" y="581" width="3" height="1" fill="#c0c0c0"/>
<rect x="332" y="581" width="3" height="1" fill="#c0c0c0"/>
<rect x="338" y="581" width="3" height="1" fill="#c0c0c0"/>
<rect x="344" y="581" width="3" height="1" fill="#c0c0c0"/>
<rect x="350" y="581" width="3" height="1" fill="#c0c0c0"/>
<rect x="356" y="581" width="3" height="1" fill="#c0c0c0"/>
<rect x="362" y="581" width="3" height="1" fill="#c0c0c0"/>
<rect x="368" y="581" width="3" height="1" fill="#c0c0c0"/>
<rect x="374" y="581" width="3" height="1" fill="#c0c0c0"/>
<rect x="380" y="581" width="3" height="1" fill="#c0c0c0"/>
<rect x="386" y="581" width="3" height="1" fill="#c0c0c0"/>
<rect x="392" y="581" width="3" height="1" fill="#c0c0c0"/>
<rect x="398" y="581" width="3" height="1" fill="#c0c0c0"/>
<rect x="404" y="581" width="3" height="1" fill="#c0c0c0"/>
<rect x="410" y="581" width="3" height="1" fill="#c0c0c0"/>
<rect x="416" y="581" width="3" height="1" fill="#c0c0c0"/>
<rect x="422" y="581" width="3" height="1" fill="#c0c0c0"/>
<rect x="428" y="581" width="3" height="1" fill="#c0c0c0"/>
<rect x="434" y="581" width="3" height="1" fill="#c0c0c0"/>
<rect x="440" y="581" width="3" height="1" fill="#c0c0c0"/>
<rect x="446" y="581" width="3" height="1" fill="#c0c0c0"/>
<rect x="452" y="581" width="3" height="1" fill="#c0c0c0"/>
<rect x="458" y="581" width="3" height="1" fill="#c0c0c0"/>
<rect x="464" y="581" width="3" height="1" fill="#c0c0c0"/>
<rect x="470" y="581" width="3" height="1" fill="#c0c0c0"/>
<rect x="476" y="581" width="3" height="1" fill="#c0c0c0"/>
<rect x="482" y="581" width="3" height="1" fill="#c0c0c0"/>
<rect x="488" y="581" width="3" height="1" fill="#c0c0c0"/>
<rect x="494" y="581" width="3" height="1" fill="#c0c0c0"/>
<rect x="500" y="581" width="3" height="1" fill="#c0c0c0"/>
<rect x="506" y="581" width="3" height="1" fill="#c0c0c0"/>
<rect x="512" y="581" width="3" height="1" fill="#c0c0c0"/>
<rect x="518" y="581" width="3" height="1" fill="#c0c0c0"/>
<rect x="524" y="581" width="3" height="1" fill="#c0c0c0"/>
<rect x="530" y="581" width="3" height="1" fill="#c0c0c0"/>
<rect x="536" y="581" width="3" height="1" fill="#c0c0c0"/>
<rect x="542" y="581" width="3" height="1" fill="#c0c0c0"/>
<rect x="548" y="581" width="3" height="1" fill="#c0c0c0"/>
<rect x="554" y="581" width="3" height="1" fill="#c0c0c0"/>
<rect x="560" y="581" width="3" height="1" fill="#c0c0c0"/>
<rect x="566" y="581" width="3" height="1" fill="#c0c0c0"/>
<rect x="572" y="581" width="3" height="1" fill="#c0c0c0"/>
<rect x="578" y="581" width="3" height="1" fill="#c0c0c0"/>
<rect x="584" y="581" width="3" height="1" fill="#c0c0c0"/>
<rect x="590" y="581" width="3" height="1" fill="#c0c0c0"/>
<rect x="596" y="581" width="3" height="1" fill="#c0c0c0"/>
<rect x="602" y="581" width="3" height="1" fill="#c0c0c0"/>
<rect x="608" y="581" width="3" height="1" fill="#c0c0c0"/>
<rect x="614" y="581" width="3" height="1" fill="#c0c0c0"/>
<rect x="620" y="581" width="3" height="1" fill="#c0c0c0"/>
<rect x="626" y="581" width="3" height="1" fill="#c0c0c0"/>
<rect x="632" y="581" width="3" height="1" fill="#c0c0c0"/>
<rect x="638" y="581" width="3" height="1" fill="#c0c0c0"/>
<rect x="644" y="581" width="3" height="1" fill="#c0c0c0"/>
<rect x="650" y="581" width="3" height="1" fill="#c0c0c0"/>
<rect x="656" y="581" width="3" height="1" fill="#c0c0c0"/>
<rect x="662" y="581" width="3" height="1" fill="#c0c0c0"/>
<rect x="668" y="581" width="3" height="1" fill="#c0c0c0"/>
<rect x="674" y="581" width="3" height="1" fill="#c0c0c0"/>
<rect x="680" y="581" width="3" height="1" fill="#c0c0c0"/>
<rect x="686" y="581" width="3" height="1" fill="#c0c0c0"/>
<rect x="692" y="581" width="3" height="1" fill="#c0c0c0"/>
<rect x="698" y="581" width="3" height="1" fill="#c0c0c0"/>
<rect x="704" y="581" width="3" height="1" fill="#c0c0c0"/>
<rect x="710" y="581" width="3" height="1" fill="#c0c0c0"/>
<rect x="716" y="581" width="3" height="1" fill="#c0c0c0"/>
<rect x="722" y="581" width="3" height="1" fill="#c0c0c0"/>
<rect x="728" y="581" width="3" height="1" fill="#c0c0c0"/>
<rect x="734" y="581" width="3" height="1" fill="#c0c0c0"/>
<rect x="740" y="581" width="3" height="1" fill="#c0c0c0"/>
<rect x="746" y="581" width="3" height="1" fill="#c0c0c0"/>
<rect x="752" y="581" width="3" height="1" fill="#c0c0c0"/>
<rect x="758" y="581" width="3" height="1" fill="#c0c0c0"/>
<rect x="764" y="581" width="3" height="1" fill="#c0c0c0"/>
<rect x="770" y="581" width="3" height="1" fill="#c0c0c0"/>
<rect x="776" y="581" width="3" height="1" fill="#c0c0c0"/>
<rect x="782" y="581" width="3" height="1" fill="#c0c0c0"/>
<rect x="788" y="581" width="3" height="1" fill="#c0c0c0"/>
<rect x="794" y="581" width="3" height="1" fill="#c0c0c0"/>
<rect x="800" y="581" width="3" height="1" fill="#c0c0c0"/>
<rect x="806" y="581" width="3" height="1" fill="#c0c0c0"/>
<rect x="812" y="581" width="3" height="1" fill="#c0c0c0"/>
<rect x="818" y="581" width="3" height="1" fill="#c0c0c0"/>
<rect x="824" y="581" width="3" height="1" fill="#c0c0c0"/>
<rect x="830" y="581" width="3" height="1" fill="#c0c0c0"/>
<rect x="836" y="581" width="3" height="1" fill="#c0c0c0"/>
<rect x="842" y="581" width="3" height="1" fill="#c0c0c0"/>
<rect x="848" y="581" width="3" height="1" fill="#c0c0c0"/>
<rect x="854" y="581" width="3" height="1" fill="#c0c0c0"/>
<rect x="860" y="581" width="3" height="1" fill="#c0c0c0"/>
<rect x="866" y="581" width="3" height="1" fill="#c0c0c0"/>
<rect x="872" y="581" width="3" height="1" fill="#c0c0c0"/>
<rect x="878" y="581" width="3" height="1" fill="#c0c0c0"/>
<rect x="884" y="581" width="3" height="1" fill="#c0c0c0"/>
<rect x="890" y="581" width="3" height="1" fill="#c0c0c0"/>
<rect x="896" y="581" width="3" height="1" fill="#c0c0c0"/>
<rect x="902" y="581" width="3" height="1" fill="#c0c0c0"/>
<rect x="908" y="581" width="3" height="1" fill="#c0c0c0"/>
<rect x="914" y="581" width="3" height="1" fill="#c0c0c0"/>
<rect x="920" y="581" width="3" height="1" fill="#c0c0c0"/>
<rect x="926" y="581" width="3" height="1" fill="#c0c0c0"/>
<rect x="932" y="581" width="3" height="1" fill="#c0c0c0"/>
<rect x="938" y="581" width="3" height="1" fill="#c0c0c0"/>
<rect x="944" y="581" width="3" height="1" fill="#c0c0c0"/>
<rect x="950" y="581" width="3" height="1" fill="#c0c0c0"/>
<rect x="956" y="581" width="3" height="1" fill="#c0c0c0"/>
<rect x="962" y="581" width="3" height="1" fill="#c0c0c0"/>
<rect x="968" y="581" width="3" height="1" fill="#c0c0c0"/>
<rect x="974" y="581" width="3" height="1" fill="#c0c0c0"/>
<rect x="980" y="581" width="3" height="1" fill="#c0c0c0"/>
<rect x="986" y="581" width="3" height="1" fill="#c0c0c0"/>
<rect x="992" y="581" width="3" height="1" fill="#c0c0c0"/>
<rect x="998" y="581" width="3" height="1" fill="#c0c0c0"/>
<rect x="1004" y="581" width="3" height="1" fill="#c0c0c0"/>
<rect x="1010" y="581" width="3" height="1" fill="#c0c0c0"/>
<rect x="1016" y="581" width="3" height="1" fill="#c0c0c0"/>
<rect x="1022" y="581" width="3" height="1" fill="#c0c0c0"/>
<rect x="1028" y="581" width="3" height="1" fill="#c0c0c0"/>
<rect x="1034" y="581" width="3" height="1" fill="#c0c0c0"/>
<rect x="1040" y="581" width="3" height="1" fill="#c0c0c0"/>
<rect x="1046" y="581" width="3" height="1" fill="#c0c0c0"/>
<rect x="1052" y="581" width="3" height="1" fill="#c0c0c0"/>
<rect x="1058" y="581" width="3" height="1" fill="#c0c0c0"/>
<rect x="1064" y="581" width="3" height="1" fill="#c0c0c0"/>
<rect x="1070" y="581" width="3" height="1" fill="#c0c0c0"/>
<rect x="1076" y="581" width="3" height="1" fill="#c0c0c0"/>
<rect x="1082" y="581" width="3" height="1" fill="#c0c0c0"/>
<rect x="1088" y="581" width="3" height="1" fill="#c0c0c0"/>
<rect x="1094" y="581" width="3" height="1" fill="#c0c0c0"/>
<rect x="1100" y="581" width="3" height="1" fill="#c0c0c0"/>
<rect x="1106" y="581" width="3" height="1" fill="#c0c0c0"/>
<rect x="1112" y="581" width="3" height="1" fill="#c0c0c0"/>
<rect x="1118" y="581" width="3" height="1" fill="#c0c0c0"/>
<rect x="1124" y="581" width="3" height="1" fill="#c0c0c0"/>
<rect x="1130" y="581" width="3" height="1" fill="#c0c0c0"/>
<rect x="1136" y="581" width="3" height="1" fill="#c0c0c0"/>
<rect x="1142" y="581" width="3" height="1" fill="#c0c0c0"/>
<rect x="1148" y="581" width="3" height="1" fill="#c0c0c0"/>
<rect x="1154" y="581" width="3" height="1" fill="#c0c0c0"/>
<rect x="1160" y="581" width="3" height="1" fill="#c0c0c0"/>
<rect x="1166" y="581" width="3" height="1" fill="#c0c0c0"/>
<rect x="1172" y="581" width="3" height="1" fill="#c0c0c0"/>
<rect x="1178" y="581" width="3" height="1" fill="#c0c0c0"/>
<rect x="1184" y="581" width="3" height="1" fill="#c0c0c0"/>
<rect x="1190" y="581" width="3" height="1" fill="#c0c0c0"/>
<rect x="1196" y="581" width="3" height="1" fill="#c0c0c0"/>
<rect x="8" y="628" width="3" height="1" fill="#c0c0c0"/>
<rect x="14" y="628" width="3" height="1" fill="#c0c0c0"/>
<rect x="20" y="628" width="3" height="1" fill="#c0c0c0"/>
<rect x="26" y="628" width="3" height="1" fill="#c0c0c0"/>
<rect x="32" y="628" width="3" height="1" fill="#c0c0c0"/>
<rect x="38" y="628" width="3" height="1" fill="#c0c0c0"/>
<rect x="44" y="628" width="3" height="1" fill="#c0c0c0"/>
<rect x="50" y="628" width="3" height="1" fill="#c0c0c0"/>
<rect x="56" y="628" width="3" height="1" fill="#c0c0c0"/>
<rect x="62" y="628" width="3" height="1" fill="#c0c0c0"/>
<rect x="68" y="628" width="3" height="1" fill="#c0c0c0"/>
<rect x="74" y="628" width="3" height="1" fill="#c0c0c0"/>
<rect x="80" y="628" width="3" height="1" fill="#c0c0c0"/>
<rect x="86" y="628" width="3" height="1" fill="#c0c0c0"/>
<rect x="92" y="628" width="3" height="1" fill="#c0c0c0"/>
<rect x="98" y="628" width="3" height="1" fill="#c0c0c0"/>
<rect x="104" y="628" width="3" height="1" fill="#c0c0c0"/>
<rect x="110" y="628" width="3" height="1" fill="#c0c0c0"/>
<rect x="116" y="628" width="3" height="1" fill="#c0c0c0"/>
<rect x="122" y="628" width="3" height="1" fill="#c0c0c0"/>
<rect x="128" y="628" width="3" height="1" fill="#c0c0c0"/>
<rect x="134" y="628" width="3" height="1" fill="#c0c0c0"/>
<rect x="140" y="628" width="3" height="1" fill="#c0c0c0"/>
<rect x="146" y="628" width="3" height="1" fill="#c0c0c0"/>
<rect x="152" y="628" width="3" height="1" fill="#c0c0c0"/>
<rect x="158" y="628" width="3" height="1" fill="#c0c0c0"/>
<rect x="164" y="628" width="3" height="1" fill="#c0c0c0"/>
<rect x="170" y="628" width="3" height="1" fill="#c0c0c0"/>
<rect x="176" y="628" width="3" height="1" fill="#c0c0c0"/>
<rect x="182" y="628" width="3" height="1" fill="#c0c0c0"/>
<rect x="188" y="628" width="3" height="1" fill="#c0c0c0"/>
<rect x="194" y="628" width="3" height="1" fill="#c0c0c0"/>
<rect x="200" y="628" width="3" height="1" fill="#c0c0c0"/>
<rect x="206" y="628" width="3" height="1" fill="#c0c0c0"/>
<rect x="212" y="628" width="3" height="1" fill="#c0c0c0"/>
<rect x="218" y="628" width="3" height="1" fill="#c0c0c0"/>
<rect x="224" y="628" width="3" height="1" fill="#c0c0c0"/>
<rect x="230" y="628" width="3" height="1" fill="#c0c0c0"/>
<rect x="236" y="628" width="3" height="1" fill="#c0c0c0"/>
<rect x="242" y="628" width="3" height="1" fill="#c0c0c0"/>
<rect x="248" y="628" width="3" height="1" fill="#c0c0c0"/>
<rect x="254" y="628" width="3" height="1" fill="#c0c0c0"/>
<rect x="260" y="628" width="3" height="1" fill="#c0c0c0"/>
<rect x="266" y="628" width="3" height="1" fill="#c0c0c0"/>
<rect x="272" y="628" width="3" height="1" fill="#c0c0c0"/>
<rect x="278" y="628" width="3" height="1" fill="#c0c0c0"/>
<rect x="284" y="628" width="3" height="1" fill="#c0c0c0"/>
<rect x="290" y="628" width="3" height="1" fill="#c0c0c0"/>
<rect x="296" y="628" width="3" height="1" fill="#c0c0c0"/>
<rect x="302" y="628" width="3" height="1" fill="#c0c0c0"/>
<rect x="308" y="628" width="3" height="1" fill="#c0c0c0"/>
<rect x="314" y="628" width="3" height="1" fill="#c0c0c0"/>
<rect x="320" y="628" width="3" height="1" fill="#c0c0c0"/>
<rect x="326" y="628" width="3" height="1" fill="#c0c0c0"/>
<rect x="332" y="628" width="3" height="1" fill="#c0c0c0"/>
<rect x="338" y="628" width="3" height="1" fill="#c0c0c0"/>
<rect x="344" y="628" width="3" height="1" fill="#c0c0c0"/>
<rect x="350" y="628" width="3" height="1" fill="#c0c0c0"/>
<rect x="356" y="628" width="3" height="1" fill="#c0c0c0"/>
<rect x="362" y="628" width="3" height="1" fill="#c0c0c0"/>
<rect x="368" y="628" width="3" height="1" fill="#c0c0c0"/>
<rect x="374" y="628" width="3" height="1" fill="#c0c0c0"/>
<rect x="380" y="628" width="3" height="1" fill="#c0c0c0"/>
<rect x="386" y="628" width="3" height="1" fill="#c0c0c0"/>
<rect x="392" y="628" width="3" height="1" fill="#c0c0c0"/>
<rect x="398" y="628" width="3" height="1" fill="#c0c0c0"/>
<rect x="404" y="628" width="3" height="1" fill="#c0c0c0"/>
<rect x="410" y="628" width="3" height="1" fill="#c0c0c0"/>
<rect x="416" y="628" width="3" height="1" fill="#c0c0c0"/>
<rect x="422" y="628" width="3" height="1" fill="#c0c0c0"/>
<rect x="428" y="628" width="3" height="1" fill="#c0c0c0"/>
<rect x="434" y="628" width="3" height="1" fill="#c0c0c0"/>
<rect x="440" y="628" width="3" height="1" fill="#c0c0c0"/>
<rect x="446" y="628" width="3" height="1" fill="#c0c0c0"/>
<rect x="452" y="628" width="3" height="1" fill="#c0c0c0"/>
<rect x="458" y="628" width="3" height="1" fill="#c0c0c0"/>
<rect x="464" y="628" width="3" height="1" fill="#c0c0c0"/>
<rect x="470" y="628" width="3" height="1" fill="#c0c0c0"/>
<rect x="476" y="628" width="3" height="1" fill="#c0c0c0"/>
<rect x="482" y="628" width="3" height="1" fill="#c0c0c0"/>
<rect x="488" y="628" width="3" height="1" fill="#c0c0c0"/>
<rect x="494" y="628" width="3" height="1" fill="#c0c0c0"/>
<rect x="500" y="628" width="3" height="1" fill="#c0c0c0"/>
<rect x="506" y="628" width="3" height="1" fill="#c0c0c0"/>
<rect x="512" y="628" width="3" height="1" fill="#c0c0c0"/>
<rect x="518" y="628" width="3" height="1" fill="#c0c0c0"/>
<rect x="524" y="628" width="3" height="1" fill="#c0c0c0"/>
<rect x="530" y="628" width="3" height="1" fill="#c0c0c0"/>
<rect x="536" y="628" width="3" height="1" fill="#c0c0c0"/>
<rect x="542" y="628" width="3" height="1" fill="#c0c0c0"/>
<rect x="548" y="628" width="3" height="1" fill="#c0c0c0"/>
<rect x="554" y="628" width="3" height="1" fill="#c0c0c0"/>
<rect x="560" y="628" width="3" height="1" fill="#c0c0c0"/>
<rect x="566" y="628" width="3" height="1" fill="#c0c0c0"/>
<rect x="572" y="628" width="3" height="1" fill="#c0c0c0"/>
<rect x="578" y="628" width="3" height="1" fill="#c0c0c0"/>
<rect x="584" y="628" width="3" height="1" fill="#c0c0c0"/>
<rect x="590" y="628" width="3" height="1" fill="#c0c0c0"/>
<rect x="596" y="628" width="3" height="1" fill="#c0c0c0"/>
<rect x="602" y="628" width="3" height="1" fill="#c0c0c0"/>
<rect x="608" y="628" width="3" height="1" fill="#c0c0c0"/>
<rect x="614" y="628" width="3" height="1" fill="#c0c0c0"/>
<rect x="620" y="628" width="3" height="1" fill="#c0c0c0"/>
<rect x="626" y="628" width="3" height="1" fill="#c0c0c0"/>
<rect x="632" y="628" width="3" height="1" fill="#c0c0c0"/>
<rect x="638" y="628" width="3" height="1" fill="#c0c0c0"/>
<rect x="644" y="628" width="3" height="1" fill="#c0c0c0"/>
<rect x="650" y="628" width="3" height="1" fill="#c0c0c0"/>
<rect x="656" y="628" width="3" height="1" fill="#c0c0c0"/>
<rect x="662" y="628" width="3" height="1" fill="#c0c0c0"/>
<rect x="668" y="628" width="3" height="1" fill="#c0c0c0"/>
<rect x="674" y="628" width="3" height="1" fill="#c0c0c0"/>
<rect x="680" y="628" width="3" height="1" fill="#c0c0c0"/>
<rect x="686" y="628" width="3" height="1" fill="#c0c0c0"/>
<rect x="692" y="628" width="3" height="1" fill="#c0c0c0"/>
<rect x="698" y="628" width="3" height="1" fill="#c0c0c0"/>
<rect x="704" y="628" width="3" height="1" fill="#c0c0c0"/>
<rect x="710" y="628" width="3" height="1" fill="#c0c0c0"/>
<rect x="716" y="628" width="3" height="1" fill="#c0c0c0"/>
<rect x="722" y="628" width="3" height="1" fill="#c0c0c0"/>
<rect x="728" y="628" width="3" height="1" fill="#c0c0c0"/>
<rect x="734" y="628" width="3" height="1" fill="#c0c0c0"/>
<rect x="740" y="628" width="3" height="1" fill="#c0c0c0"/>
<rect x="746" y="628" width="3" height="1" fill="#c0c0c0"/>
<rect x="752" y="628" width="3" height="1" fill="#c0c0c0"/>
<rect x="758" y="628" width="3" height="1" fill="#c0c0c0"/>
<rect x="764" y="628" width="3" height="1" fill="#c0c0c0"/>
<rect x="770" y="628" width="3" height="1" fill="#c0c0c0"/>
<rect x="776" y="628" width="3" height="1" fill="#c0c0c0"/>
<rect x="782" y="628" width="3" height="1" fill="#c0c0c0"/>
<rect x="788" y="628" width="3" height="1" fill="#c0c0c0"/>
<rect x="794" y="628" width="3" height="1" fill="#c0c0c0"/>
<rect x="800" y="628" width="3" height="1" fill="#c0c0c0"/>
<rect x="806" y="628" width="3" height="1" fill="#c0c0c0"/>
<rect x="812" y="628" width="3" height="1" fill="#c0c0c0"/>
<rect x="818" y="628" width="3" height="1" fill="#c0c0c0"/>
<rect x="824" y="628" width="3" height="1" fill="#c0c0c0"/>
<rect x="830" y="628" width="3" height="1" fill="#c0c0c0"/>
<rect x="836" y="628" width="3" height="1" fill="#c0c0c0"/>
<rect x="842" y="628" width="3" height="1" fill="#c0c0c0"/>
<rect x="848" y="628" width="3" height="1" fill="#c0c0c0"/>
<rect x="854" y="628" width="3" height="1" fill="#c0c0c0"/>
<rect x="860" y="628" width="3" height="1" fill="#c0c0c0"/>
<rect x="866" y="628" width="3" height="1" fill="#c0c0c0"/>
<rect x="872" y="628" width="3" height="1" fill="#c0c0c0"/>
<rect x="878" y="628" width="3" height="1" fill="#c0c0c0"/>
<rect x="884" y="628" width="3" height="1" fill="#c0c0c0"/>
<rect x="890" y="628" width="3" height="1" fill="#c0c0c0"/>
<rect x="896" y="628" width="3" height="1" fill="#c0c0c0"/>
<rect x="902" y="628" width="3" height="1" fill="#c0c0c0"/>
<rect x="908" y="628" width="3" height="1" fill="#c0c0c0"/>
<rect x="914" y="628" width="3" height="1" fill="#c0c0c0"/>
<rect x="920" y="628" width="3" height="1" fill="#c0c0c0"/>
<rect x="926" y="628" width="3" height="1" fill="#c0c0c0"/>
<rect x="932" y="628" width="3" height="1" fill="#c0c0c0"/>
<rect x="938" y="628" width="3" height="1" fill="#c0c0c0"/>
<rect x="944" y="628" width="3" height="1" fill="#c0c0c0"/>
<rect x="950" y="628" width="3" height="1" fill="#c0c0c0"/>
<rect x="956" y="628" width="3" height="1" fill="#c0c0c0"/>
<rect x="962" y="628" width="3" height="1" fill="#c0c0c0"/>
<rect x="968" y="628" width="3" height="1" fill="#c0c0c0"/>
<rect x="974" y="628" width="3" height="1" fill="#c0c0c0"/>
<rect x="980" y="628" width="3" height="1" fill="#c0c0c0"/>
<rect x="986" y="628" width="3" height="1" fill="#c0c0c0"/>
<rect x="992" y="628" width="3" height="1" fill="#c0c0c0"/>
<rect x="998" y="628" width="3" height="1" fill="#c0c0c0"/>
<rect x="1004" y="628" width="3" height="1" fill="#c0c0c0"/>
<rect x="1010" y="628" width="3" height="1" fill="#c0c0c0"/>
<rect x="1016" y="628" width="3" height="1" fill="#c0c0c0"/>
<rect x="1022" y="628" width="3" height="1" fill="#c0c0c0"/>
<rect x="1028" y="628" width="3" height="1" fill="#c0c0c0"/>
<rect x="1034" y="628" width="3" height="1" fill="#c0c0c0"/>
<rect x="1040" y="628" width="3" height="1" fill="#c0c0c0"/>
<rect x="1046" y="628" width="3" height="1" fill="#c0c0c0"/>
<rect x="1052" y="628" width="3" height="1" fill="#c0c0c0"/>
<rect x="1058" y="628" width="3" height="1" fill="#c0c0c0"/>
<rect x="1064" y="628" width="3" height="1" fill="#c0c0c0"/>
<rect x="1070" y="628" width="3" height="1" fill="#c0c0c0"/>
<rect x="1076" y="628" width="3" height="1" fill="#c0c0c0"/>
<rect x="1082" y="628" width="3" height="1" fill="#c0c0c0"/>
<rect x="1088" y="628" width="3" height="1" fill="#c0c0c0"/>
<rect x="1094" y="628" width="3" height="1" fill="#c0c0c0"/>
<rect x="1100" y="628" width="3" height="1" fill="#c0c0c0"/>
<rect x="1106" y="628" width="3" height="1" fill="#c0c0c0"/>
<rect x="1112" y="628" width="3" height="1" fill="#c0c0c0"/>
<rect x="1118" y="628" width="3" height="1" fill="#c0c0c0"/>
<rect x="1124" y="628" width="3" height="1" fill="#c0c0c0"/>
<rect x="1130" y="628" width="3" height="1" fill="#c0c0c0"/>
<rect x="1136" y="628" width="3" height="1" fill="#c0c0c0"/>
<rect x="1142" y="628" width="3" height="1" fill="#c0c0c0"/>
<rect x="1148" y="628" width="3" height="1" fill="#c0c0c0"/>
<rect x="1154" y="628" width="3" height="1" fill="#c0c0c0"/>
<rect x="1160" y="628" width="3" height="1" fill="#c0c0c0"/>
<rect x="1166" y="628" width="3" height="1" fill="#c0c0c0"/>
<rect x="1172" y="628" width="3" height="1" fill="#c0c0c0"/>
<rect x="1178" y="628" width="3" height="1" fill="#c0c0c0"/>
<rect x="1184" y="628" width="3" height="1" fill="#c0c0c0"/>
<rect x="1190" y="628" width="3" height="1" fill="#c0c0c0"/>
<rect x="1196" y="628" width="3" height="1" fill="#c0c0c0"/>
<rect x="6" y="2" width="1194" height="1" fill="#000"/>
<rect x="6" y="2" width="1" height="426" fill="#000"/>
<rect x="6" y="427" width="1194" height="1" fill="#000"/>
<rect x="6" y="429" width="1194" height="1" fill="#000"/>
<rect x="6" y="429" width="1" height="115" fill="#000"/>
<rect x="6" y="543" width="1194" height="1" fill="#000"/>
<rect x="6" y="545" width="1194" height="1" fill="#000"/>
<rect x="6" y="545" width="1" height="119" fill="#000"/>
<rect x="6" y="663" width="1194" height="1" fill="#000"/>
<rect x="1199" y="2" width="1" height="662" fill="#000"/>
<rect x="7" y="664" width="1" height="3" fill="#000"/>
<rect x="71" y="664" width="1" height="3" fill="#000"/>
<rect x="135" y="664" width="1" height="3" fill="#000"/>
<rect x="199" y="664" width="1" height="3" fill="#000"/>
<rect x="263" y="664" width="1" height="3" fill="#000"/>
<rect x="327" y="664" width="1" height="3" fill="#000"/>
<rect x="391" y="664" width="1" height="3" fill="#000"/>
<rect x="455" y="664" width="1" height="3" fill="#000"/>
<rect x="519" y="664" width="1" height="3" fill="#000"/>
<rect x="583" y="664" width="1" height="3" fill="#000"/>
<rect x="647" y="664" width="1" height="3" fill="#000"/>
<rect x="711" y="664" width="1" height="3" fill="#000"/>
<rect x="775" y="664" width="1" height="3" fill="#000"/>
<rect x="839" y="664" width="1" height="3" fill="#000"/>
<rect x="903" y="664" width="1" height="3" fill="#000"/>
<rect x="967" y="664" width="1" height="3" fill="#000"/>
<rect x="1031" y="664" width="1" height="3" fill="#000"/>
<rect x="1095" y="664" width="1" height="3" fill="#000"/>
<rect x="1159" y="664" width="1" height="3" fill="#000"/>
<rect x="1200" y="29" width="2" height="1" fill="#000"/>
<rect x="1200" y="62" width="2" height="1" fill="#000"/>
<rect x="1200" y="95" width="2" height="1" fill="#000"/>
<rect x="1200" y="128" width="2" height="1" fill="#000"/>
<rect x="1200" y="161" width="2" height="1" fill="#000"/>
<rect x="1200" y="227" width="2" height="1" fill="#000"/>
<rect x="1200" y="259" width="2" height="1" fill="#000"/>
<rect x="1200" y="292" width="2" height="1" fill="#000"/>
<rect x="1200" y="325" width="2" height="1" fill="#000"/>
<rect x="1200" y="358" width="2" height="1" fill="#000"/>
<rect x="1200" y="391" width="2" height="1" fill="#000"/>
<rect x="1200" y="424" width="2" height="1" fill="#000"/>
<rect x="1200" y="430" width="2" height="1" fill="#000"/>
<rect x="1200" y="467" width="2" height="1" fill="#000"/>
<rect x="1200" y="543" width="2" height="1" fill="#000"/>
<rect x="1200" y="546" width="2" height="1" fill="#000"/>
<rect x="1200" y="662" width="2" height="1" fill="#000"/>
<polygon points="10,9 17.6,9 13.8,13.2" fill="#000"/>
</g>
<text transform="translate(21.3,14) scale(0.9346,1)" font-family='"Liberation Sans", "Noto Sans CJK SC", sans-serif' font-size="10.06" fill="#000" stroke="#000" stroke-width="0.1" style="white-space:pre">UKOil-,H4&#160; 75.510 75.540 75.480 75.540</text>
<text transform="translate(10.4,442) scale(0.9346,1)" font-family='"Liberation Sans", "Noto Sans CJK SC", sans-serif' font-size="10.06" fill="#000" stroke="#000" stroke-width="0.1" >MACD(12,26,9) 0.4999 0.0342</text>
<text transform="translate(10.4,558) scale(0.9346,1)" font-family='"Liberation Sans", "Noto Sans CJK SC", sans-serif' font-size="10.06" fill="#000" stroke="#000" stroke-width="0.1" >RSI(14) 64.7453</text>
<text transform="translate(1204,32.6) scale(0.9346,1)" font-family='"Liberation Sans", "Noto Sans CJK SC", sans-serif' font-size="9.84" fill="#000" stroke="#000" stroke-width="0.1" >82.750</text>
<text transform="translate(1204,65.6) scale(0.9346,1)" font-family='"Liberation Sans", "Noto Sans CJK SC", sans-serif' font-size="9.84" fill="#000" stroke="#000" stroke-width="0.1" >81.310</text>
<text transform="translate(1204,98.6) scale(0.9346,1)" font-family='"Liberation Sans", "Noto Sans CJK SC", sans-serif' font-size="9.84" fill="#000" stroke="#000" stroke-width="0.1" >79.870</text>
<text transform="translate(1204,131.6) scale(0.9346,1)" font-family='"Liberation Sans", "Noto Sans CJK SC", sans-serif' font-size="9.84" fill="#000" stroke="#000" stroke-width="0.1" >78.430</text>
<text transform="translate(1204,164.6) scale(0.9346,1)" font-family='"Liberation Sans", "Noto Sans CJK SC", sans-serif' font-size="9.84" fill="#000" stroke="#000" stroke-width="0.1" >76.990</text>
<text transform="translate(1204,230.6) scale(0.9346,1)" font-family='"Liberation Sans", "Noto Sans CJK SC", sans-serif' font-size="9.84" fill="#000" stroke="#000" stroke-width="0.1" >74.110</text>
<text transform="translate(1204,262.6) scale(0.9346,1)" font-family='"Liberation Sans", "Noto Sans CJK SC", sans-serif' font-size="9.84" fill="#000" stroke="#000" stroke-width="0.1" >72.630</text>
<text transform="translate(1204,295.6) scale(0.9346,1)" font-family='"Liberation Sans", "Noto Sans CJK SC", sans-serif' font-size="9.84" fill="#000" stroke="#000" stroke-width="0.1" >71.190</text>
<text transform="translate(1204,328.6) scale(0.9346,1)" font-family='"Liberation Sans", "Noto Sans CJK SC", sans-serif' font-size="9.84" fill="#000" stroke="#000" stroke-width="0.1" >69.750</text>
<text transform="translate(1204,361.6) scale(0.9346,1)" font-family='"Liberation Sans", "Noto Sans CJK SC", sans-serif' font-size="9.84" fill="#000" stroke="#000" stroke-width="0.1" >68.310</text>
<text transform="translate(1204,394.6) scale(0.9346,1)" font-family='"Liberation Sans", "Noto Sans CJK SC", sans-serif' font-size="9.84" fill="#000" stroke="#000" stroke-width="0.1" >66.870</text>
<text transform="translate(1204,427.6) scale(0.9346,1)" font-family='"Liberation Sans", "Noto Sans CJK SC", sans-serif' font-size="9.84" fill="#000" stroke="#000" stroke-width="0.1" >65.430</text>
<g shape-rendering="crispEdges">
<rect x="1202" y="17" width="34" height="11" fill="#ff0000"/>
<rect x="1202" y="85" width="34" height="11" fill="#ff0000"/>
<rect x="1202" y="165" width="34" height="11" fill="#00cc00"/>
<rect x="1202" y="188" width="34" height="11" fill="#000"/>
<rect x="1202" y="245" width="34" height="11" fill="#3c55e6"/>
<rect x="1202" y="313" width="34" height="11" fill="#3c55e6"/>
</g>
<text transform="translate(1204,25.8) scale(0.9346,1)" font-family='"Liberation Sans", "Noto Sans CJK SC", sans-serif' font-size="9.84" fill="#fff" stroke="#fff" stroke-width="0.1" >83.000</text>
<text transform="translate(1204,93.8) scale(0.9346,1)" font-family='"Liberation Sans", "Noto Sans CJK SC", sans-serif' font-size="9.84" fill="#fff" stroke="#fff" stroke-width="0.1" >80.000</text>
<text transform="translate(1204,173.8) scale(0.9346,1)" font-family='"Liberation Sans", "Noto Sans CJK SC", sans-serif' font-size="9.84" fill="#fff" stroke="#fff" stroke-width="0.1" >76.500</text>
<text transform="translate(1204,196.8) scale(0.9346,1)" font-family='"Liberation Sans", "Noto Sans CJK SC", sans-serif' font-size="9.84" fill="#fff" stroke="#fff" stroke-width="0.1" >75.540</text>
<text transform="translate(1204,253.8) scale(0.9346,1)" font-family='"Liberation Sans", "Noto Sans CJK SC", sans-serif' font-size="9.84" fill="#fff" stroke="#fff" stroke-width="0.1" >73.000</text>
<text transform="translate(1204,321.8) scale(0.9346,1)" font-family='"Liberation Sans", "Noto Sans CJK SC", sans-serif' font-size="9.84" fill="#fff" stroke="#fff" stroke-width="0.1" >70.000</text>
<text transform="translate(1203,440) scale(0.9346,1)" font-family='"Liberation Sans", "Noto Sans CJK SC", sans-serif' font-size="9.84" fill="#000" stroke="#000" stroke-width="0.1" >1.2924</text>
<text transform="translate(1203,471) scale(0.9346,1)" font-family='"Liberation Sans", "Noto Sans CJK SC", sans-serif' font-size="9.84" fill="#000" stroke="#000" stroke-width="0.1" >0.00</text>
<text transform="translate(1202.6,540) scale(0.9346,1)" font-family='"Liberation Sans", "Noto Sans CJK SC", sans-serif' font-size="9.84" fill="#000" stroke="#000" stroke-width="0.1" >-2.6386</text>
<text transform="translate(1203.2,556) scale(0.9346,1)" font-family='"Liberation Sans", "Noto Sans CJK SC", sans-serif' font-size="9.84" fill="#000" stroke="#000" stroke-width="0.1" >100</text>
<text transform="translate(1202,585) scale(0.9346,1)" font-family='"Liberation Sans", "Noto Sans CJK SC", sans-serif' font-size="9.84" fill="#000" stroke="#000" stroke-width="0.1" >70</text>
<text transform="translate(1202,632) scale(0.9346,1)" font-family='"Liberation Sans", "Noto Sans CJK SC", sans-serif' font-size="9.84" fill="#000" stroke="#000" stroke-width="0.1" >30</text>
<text transform="translate(1202.6,660) scale(0.9346,1)" font-family='"Liberation Sans", "Noto Sans CJK SC", sans-serif' font-size="9.84" fill="#000" stroke="#000" stroke-width="0.1" >0</text>
<text transform="translate(6,675.9) scale(0.9346,1)" font-family='"Liberation Sans", "Noto Sans CJK SC", sans-serif' font-size="10.00" fill="#000" stroke="#000" stroke-width="0.1" >18 Nov 2021</text>
<text transform="translate(70,675.9) scale(0.9346,1)" font-family='"Liberation Sans", "Noto Sans CJK SC", sans-serif' font-size="10.00" fill="#000" stroke="#000" stroke-width="0.1" >22 Nov 00:00</text>
<text transform="translate(134,675.9) scale(0.9346,1)" font-family='"Liberation Sans", "Noto Sans CJK SC", sans-serif' font-size="10.00" fill="#000" stroke="#000" stroke-width="0.1" >23 Nov 09:00</text>
<text transform="translate(198,675.9) scale(0.9346,1)" font-family='"Liberation Sans", "Noto Sans CJK SC", sans-serif' font-size="10.00" fill="#000" stroke="#000" stroke-width="0.1" >24 Nov 17:00</text>
<text transform="translate(262,675.9) scale(0.9346,1)" font-family='"Liberation Sans", "Noto Sans CJK SC", sans-serif' font-size="10.00" fill="#000" stroke="#000" stroke-width="0.1" >26 Nov 09:00</text>
<text transform="translate(326,675.9) scale(0.9346,1)" font-family='"Liberation Sans", "Noto Sans CJK SC", sans-serif' font-size="10.00" fill="#000" stroke="#000" stroke-width="0.1" >29 Nov 16:00</text>
<text transform="translate(390,675.9) scale(0.9346,1)" font-family='"Liberation Sans", "Noto Sans CJK SC", sans-serif' font-size="10.00" fill="#000" stroke="#000" stroke-width="0.1" >1 Dec 01:00</text>
<text transform="translate(454,675.9) scale(0.9346,1)" font-family='"Liberation Sans", "Noto Sans CJK SC", sans-serif' font-size="10.00" fill="#000" stroke="#000" stroke-width="0.1" >2 Dec 09:00</text>
<text transform="translate(518,675.9) scale(0.9346,1)" font-family='"Liberation Sans", "Noto Sans CJK SC", sans-serif' font-size="10.00" fill="#000" stroke="#000" stroke-width="0.1" >3 Dec 17:00</text>
<text transform="translate(582,675.9) scale(0.9346,1)" font-family='"Liberation Sans", "Noto Sans CJK SC", sans-serif' font-size="10.00" fill="#000" stroke="#000" stroke-width="0.1" >6 Dec 20:00</text>
<text transform="translate(646,675.9) scale(0.9346,1)" font-family='"Liberation Sans", "Noto Sans CJK SC", sans-serif' font-size="10.00" fill="#000" stroke="#000" stroke-width="0.1" >8 Dec 05:00</text>
<text transform="translate(710,675.9) scale(0.9346,1)" font-family='"Liberation Sans", "Noto Sans CJK SC", sans-serif' font-size="10.00" fill="#000" stroke="#000" stroke-width="0.1" >9 Dec 13:00</text>
<text transform="translate(774,675.9) scale(0.9346,1)" font-family='"Liberation Sans", "Noto Sans CJK SC", sans-serif' font-size="10.00" fill="#000" stroke="#000" stroke-width="0.1" >10 Dec 21:00</text>
<text transform="translate(838,675.9) scale(0.9346,1)" font-family='"Liberation Sans", "Noto Sans CJK SC", sans-serif' font-size="10.00" fill="#000" stroke="#000" stroke-width="0.1" >14 Dec 01:00</text>
<text transform="translate(902,675.9) scale(0.9346,1)" font-family='"Liberation Sans", "Noto Sans CJK SC", sans-serif' font-size="10.00" fill="#000" stroke="#000" stroke-width="0.1" >15 Dec 09:00</text>
<text transform="translate(966,675.9) scale(0.9346,1)" font-family='"Liberation Sans", "Noto Sans CJK SC", sans-serif' font-size="10.00" fill="#000" stroke="#000" stroke-width="0.1" >16 Dec 17:00</text>
<text transform="translate(1030,675.9) scale(0.9346,1)" font-family='"Liberation Sans", "Noto Sans CJK SC", sans-serif' font-size="10.00" fill="#000" stroke="#000" stroke-width="0.1" >19 Dec 23:00</text>
<text transform="translate(1094,675.9) scale(0.9346,1)" font-family='"Liberation Sans", "Noto Sans CJK SC", sans-serif' font-size="10.00" fill="#000" stroke="#000" stroke-width="0.1" >21 Dec 05:00</text>
<text transform="translate(1158,675.9) scale(0.9346,1)" font-family='"Liberation Sans", "Noto Sans CJK SC", sans-serif' font-size="10.00" fill="#000" stroke="#000" stroke-width="0.1" >22 Dec 17:00</text>
<text x="698" y="381.7" font-family='"Liberation Sans", "Noto Sans CJK SC", sans-serif' font-size="35" fill="#ff1111" font-weight="350">多空转折点76.5</text>
</svg>
</body></html>
